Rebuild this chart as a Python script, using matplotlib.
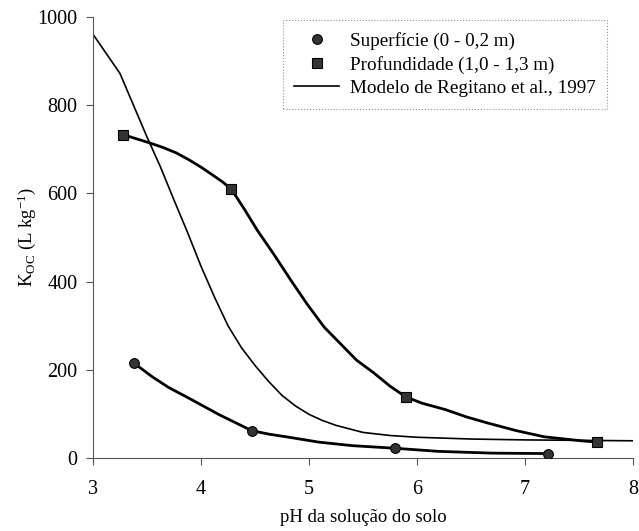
import matplotlib
matplotlib.use('Agg')
import matplotlib.pyplot as plt

plt.rcParams['font.family'] = ['Liberation Serif', 'DejaVu Serif']
plt.rcParams['mathtext.fontset'] = 'custom'
plt.rcParams['mathtext.rm'] = 'Liberation Serif'
plt.rcParams['mathtext.it'] = 'Liberation Serif:italic'

# pontos medidos
ph_sup = [3.38, 4.47, 5.80, 7.21]
koc_sup = [215, 62, 22, 10]
ph_prof = [3.28, 4.28, 5.90, 7.67]
koc_prof = [733, 610, 138, 36]

# curvas ajustadas
ph_sup_fit = [3.38, 3.55, 3.70, 3.87, 4.02, 4.17, 4.32, 4.47, 4.63, 4.79, 5.09, 5.40, 5.80, 6.20, 6.70, 7.21]
koc_sup_fit = [215, 184, 160, 138, 118, 98, 80, 62, 54, 48, 36, 28, 22, 15, 11, 10]
ph_prof_fit = [3.28, 3.40, 3.53, 3.65, 3.77, 3.89, 4.01, 4.10, 4.20, 4.28, 4.40, 4.52, 4.68, 4.83,
               4.98, 5.14, 5.30, 5.44, 5.60, 5.75, 5.90, 6.05, 6.26, 6.46, 6.66, 6.92, 7.18, 7.37, 7.52, 7.67]
koc_prof_fit = [733, 724, 714, 704, 692, 676, 658, 643, 626, 610, 565, 517, 460, 404,
                350, 297, 257, 222, 193, 163, 138, 124, 110, 93, 79, 62, 48, 43, 39, 36]

# modelo de Regitano et al., 1997
ph_mod = [3.0, 3.25, 3.5, 3.625, 3.75, 3.875, 4.0, 4.125, 4.25, 4.375, 4.5, 4.625, 4.75, 4.875,
          5.0, 5.125, 5.25, 5.5, 5.75, 6.0, 6.5, 7.0, 7.5, 8.0]
koc_mod = [961, 872, 728, 660, 585, 512, 435, 365, 300, 250, 210, 174, 142, 118,
           99, 85, 74, 58, 51, 47, 43, 41, 40, 39]

fig = plt.figure(figsize=(6.39, 5.31), dpi=100)
ax = fig.add_axes([0.1455, 0.1375, 0.845, 0.8305])

ax.plot(ph_mod, koc_mod, color='black', lw=1.2, label='Modelo de Regitano et al., 1997',
        solid_joinstyle='round', zorder=2)
ax.plot(ph_sup_fit, koc_sup_fit, color='black', lw=2.0, solid_joinstyle='round', zorder=3)
ax.plot(ph_prof_fit, koc_prof_fit, color='black', lw=2.0, solid_joinstyle='round', zorder=3)
ax.plot(ph_sup, koc_sup, 'o', ms=7, mfc='#333333', mec='black', mew=0.8,
        label='Superfície (0 - 0,2 m)', zorder=4)
ax.plot(ph_prof, koc_prof, 's', ms=6.5, mfc='#333333', mec='black', mew=0.8,
        label='Profundidade (1,0 - 1,3 m)', zorder=4)

ax.set_xlim(3, 8)
ax.set_ylim(0, 1000)
ax.set_xticks([3, 4, 5, 6, 7, 8])
ax.set_yticks([0, 200, 400, 600, 800, 1000])
ax.tick_params(direction='out', length=5, width=0.8, color='#555555', labelsize=14.5)
ax.tick_params(axis='x', pad=11)
ax.tick_params(axis='y', pad=6)
for s in ['top', 'right']:
    ax.spines[s].set_visible(False)
for s in ['left', 'bottom']:
    ax.spines[s].set_color('#555555')
    ax.spines[s].set_linewidth(0.8)

fig.text(363 / 639, 1 - 518 / 531, 'pH da solução do solo', fontsize=13.5, ha='center', va='center')
fig.text(27 / 639, 1 - 237 / 531, r'K$_{\mathrm{OC}}$ (L kg$^{\mathrm{-1}}$)', fontsize=13.5,
         rotation=90, ha='center', va='center')

h, l = ax.get_legend_handles_labels()
order = [1, 2, 0]
leg = ax.legend([h[i] for i in order], [l[i] for i in order], loc='upper right',
                bbox_to_anchor=(0.9525, 0.993), fontsize=13.8, frameon=True, fancybox=False,
                edgecolor='#777777', handlelength=2.35, handletextpad=0.57,
                borderpad=0.6, labelspacing=0.32, borderaxespad=0)
leg.get_frame().set_linewidth(0.8)
leg.get_frame().set_linestyle(':')

fig.savefig('out.png', dpi=100)
